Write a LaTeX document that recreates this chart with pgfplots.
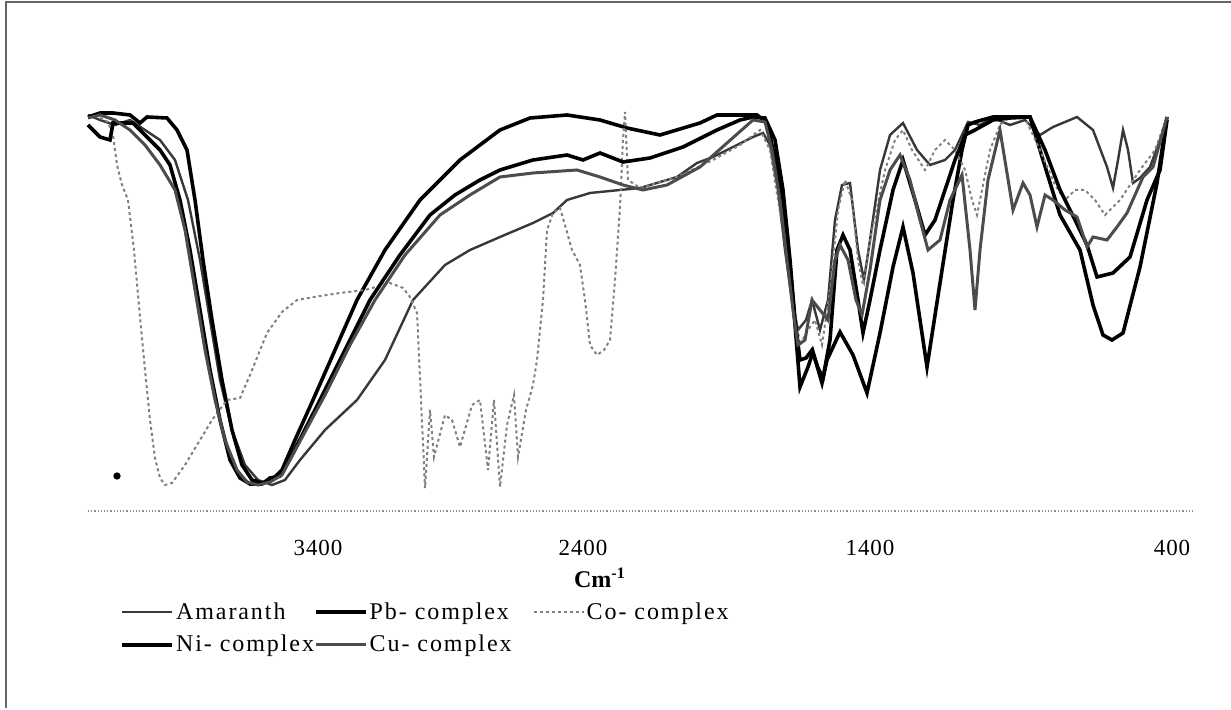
\documentclass[border=0pt]{standalone}
\usepackage{fontspec}
\setmainfont{Liberation Serif}
\usepackage{pgfplots}
\pgfplotsset{compat=1.18}
\newcommand{\lgfont}{\fontsize{12}{14}\selectfont\addfontfeatures{LetterSpace=8}}
\begin{document}
\begin{tikzpicture}
\path[use as bounding box] (-44pt,-99.5pt) rectangle (571.5pt,255.5pt);
\draw[black!60, line width=0.6pt] (-41pt,-98.5pt) -- (-41pt,254.5pt) -- (571.5pt,254.5pt);
\begin{axis}[
  at={(0pt,0pt)}, anchor=south west,
  scale only axis, width=553.5pt, height=205.5pt,
  xmin=88, xmax=1195, ymin=0, ymax=411,
  clip=false,
  axis y line=none, axis x line*=bottom,
  x axis line style={densely dotted, black!45, line width=0.6pt, -},
  xtick={318,583,870,1172}, xticklabels={3400,2400,1400,400},
  major tick length=0pt,
  xticklabel style={anchor=center, yshift=-18.5pt, font=\fontsize{11.5}{13}\selectfont\addfontfeatures{LetterSpace=4}},
  xlabel={\textbf{Cm\textsuperscript{-1}}},
  xlabel style={at={(axis description cs:0.4625,0)}, anchor=center, yshift=-33.5pt, font=\fontsize{12}{14}\selectfont},
  legend columns=3,
  legend image code/.code={\draw[#1] (0pt,0pt) -- (25pt,0pt);},
  legend style={draw=none, fill=none, at={(axis description cs:0.029,-0.2165)}, anchor=north west,
    font=\lgfont, inner sep=0pt, row sep=4.5pt,
    nodes={inner sep=1pt}},
  legend cell align=left,
]
% Amaranth
\addplot[black!78, line width=1.2pt] coordinates {
(88,396)(100,391)(115,386)(130,391)(145,381)(160,371)(175,351)(188,311)(200,251)(210,191)(220,131)(232,81)(245,46)(258,31)(272,26)(285,31)(300,51)(325,81)(357,111)(385,151)(413,211)(445,246)(470,261)(500,274)(533,288)(553,298)(567,311)(590,318)(620,321)(640,323)(677,334)(697,348)(713,354)(733,364)(753,374)(763,378)(770,366)(778,321)(785,261)(792,211)(798,181)(806,191)(812,211)(820,181)(828,211)(835,291)(842,326)(850,328)(858,261)(864,231)(870,271)(880,341)(890,376)(903,388)(917,361)(930,346)(945,351)(955,361)(968,389)(980,386)(993,393)(1010,386)(1025,391)(1040,376)(1053,384)(1077,394)(1093,381)(1107,344)(1113,323)(1118,351)(1123,381)(1128,361)(1133,328)(1140,333)(1150,344)(1160,371)(1167,394)
};
\addlegendentry{\makebox[68pt][l]{Amaranth}}
% Pb-complex
\addplot[black, line width=1.8pt] coordinates {
(88,394)(100,398)(113,398)(130,396)(140,388)(147,394)(167,393)(177,381)(187,361)(195,311)(203,251)(212,191)(222,131)(232,81)(242,46)(252,31)(262,28)(272,31)(282,41)(295,71)(313,111)(335,161)(357,211)(385,261)(420,311)(460,351)(500,381)(530,393)(567,396)(600,391)(627,383)(660,376)(700,388)(717,396)(757,396)(767,388)(777,344)(787,278)(793,211)(800,124)(808,144)(813,159)(822,128)(827,151)(840,179)(853,156)(867,118)(880,178)(893,244)(903,284)(913,238)(927,144)(940,228)(953,311)(962,361)(968,386)(975,389)(993,394)(1030,394)(1043,351)(1060,296)(1080,261)(1093,206)(1103,176)(1112,171)(1123,178)(1140,244)(1157,328)(1167,394)
};
\addlegendentry{\makebox[80.5pt][l]{Pb- complex}}
% Co-complex
\addplot[black!50, line width=1.0pt, dash pattern=on 1.5pt off 1.5pt] coordinates {
(100,393)(108,389)(113,376)(117,346)(122,326)(128,311)(134,261)(140,194)(145,141)(150,91)(155,53)(160,33)(165,26)(172,28)(185,46)(200,71)(212,91)(227,111)(240,113)(250,136)(267,178)(282,199)(297,211)(320,215)(340,218)(365,221)(390,228)(403,223)(410,214)(417,198)(421,111)(425,23)(430,101)(434,54)(445,96)(452,91)(460,64)(472,106)(480,111)(488,41)(494,111)(500,24)(507,86)(514,116)(518,54)(526,101)(533,126)(537,151)(543,211)(547,281)(553,298)(560,303)(565,286)(572,261)(580,246)(585,211)(590,166)(597,156)(604,161)(610,171)(615,231)(620,304)(623,371)(625,399)(628,331)(640,323)(677,334)(713,351)(740,366)(760,381)(770,361)(778,311)(786,261)(793,211)(800,166)(808,181)(815,191)(822,166)(830,221)(838,301)(845,331)(852,311)(858,251)(863,226)(872,281)(885,341)(895,371)(903,381)(912,361)(925,341)(935,361)(945,371)(955,361)(965,341)(972,311)(977,296)(982,321)(990,361)(1000,386)(1010,394)(1025,393)(1040,361)(1055,326)(1065,311)(1075,321)(1085,321)(1095,311)(1105,296)(1120,311)(1140,341)(1155,361)(1167,394)
};
\addlegendentry{Co- complex}
% Ni-complex
\addplot[black, line width=1.8pt] coordinates {
(88,386)(100,374)(110,371)(113,388)(133,388)(147,374)(160,361)(170,346)(180,311)(190,261)(200,201)(210,141)(220,91)(230,51)(240,33)(250,27)(262,27)(270,33)(280,35)(292,56)(320,111)(345,161)(370,211)(400,256)(430,296)(455,316)(480,331)(500,341)(533,351)(567,356)(583,351)(600,358)(623,349)(650,353)(683,364)(717,381)(740,391)(753,394)(765,393)(775,371)(783,321)(790,251)(795,191)(800,151)(806,153)(812,161)(818,143)(823,133)(830,171)(837,261)(843,276)(850,261)(858,211)(863,178)(870,211)(880,261)(893,321)(903,351)(915,311)(925,276)(935,291)(945,321)(955,351)(965,376)(975,381)(993,391)(1010,393)(1030,394)(1045,361)(1060,321)(1075,291)(1087,266)(1097,234)(1113,238)(1130,254)(1147,311)(1160,341)(1167,391)
};
\addlegendentry{\makebox[68pt][l]{Ni- complex}}
% Cu-complex
\addplot[black!70, line width=1.5pt] coordinates {
(88,393)(100,396)(115,391)(130,381)(145,366)(160,346)(175,321)(185,281)(195,221)(205,161)(215,111)(225,71)(237,41)(247,29)(258,26)(270,29)(282,36)(298,66)(325,116)(350,166)(375,211)(405,256)(440,296)(470,316)(500,334)(533,338)(577,341)(600,334)(623,326)(643,321)(667,326)(700,344)(727,368)(753,391)(765,389)(772,361)(780,311)(787,251)(793,201)(798,166)(805,171)(812,211)(820,201)(828,191)(835,251)(840,266)(848,251)(856,211)(862,196)(870,241)(880,311)(890,341)(900,356)(910,331)(920,291)(928,261)(940,271)(950,311)(962,336)(970,261)(975,201)(980,261)(988,331)(1000,381)(1013,301)(1023,328)(1030,316)(1037,284)(1045,316)(1053,311)(1065,301)(1077,294)(1087,264)(1093,274)(1107,271)(1117,284)(1127,298)(1143,334)(1153,344)(1167,394)
};
\addlegendentry{\makebox[80.5pt][l]{Cu- complex}}
\addplot[only marks, mark=*, mark size=1.6pt, black, forget plot] coordinates {(117,35)};
\end{axis}
\end{tikzpicture}
\end{document}
